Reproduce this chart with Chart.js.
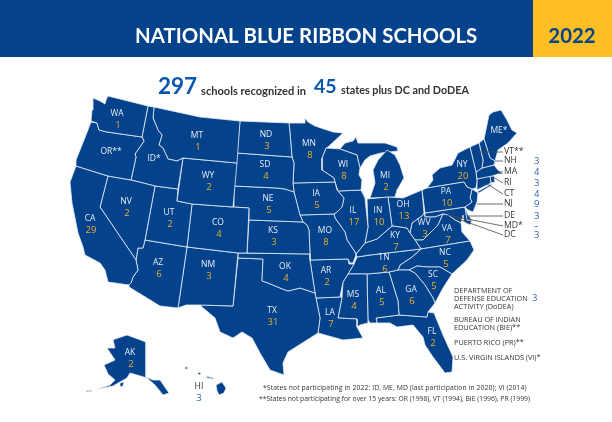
<!DOCTYPE html>
<html>
<head>
<meta charset="utf-8">
<title>National Blue Ribbon Schools 2022</title>
<script src="https://cdn.jsdelivr.net/npm/chart.js@4"></script>
<style>
html, body { margin: 0; padding: 0; background: #fff; }
canvas { display: block; }
</style>
</head>
<body>
<canvas id="mapChart" width="612" height="422"></canvas>
<script>
// state outlines in picture units
const WA = [[93,98],[100,101],[105,104],[106,100],[108,96],[148,106],[142,137],[128,135],[107,132],[99,130],[97,123],[91,121],[92,110]];
const OR = [[91,122],[97,123],[99,130],[107,132],[128,135],[142,137],[144,141],[135,154],[136,157],[131,180],[108,176],[76,166],[76,160],[80,150],[86,135]];
const CA = [[76,166],[108,176],[100,207],[136,260],[138,270],[133,277],[131,283],[129,285],[108,282],[105,270],[100,263],[85,255],[83,247],[78,233],[72,203],[70,182]];
const NV = [[108,176],[131,180],[155,186],[145,240],[143,248],[138,248],[136,260],[100,207]];
const ID = [[148,106],[154,107],[153,118],[158,130],[162,135],[159,145],[163,148],[168,159],[177,161],[183,158],[178,189],[155,186],[131,180],[136,157],[135,154],[144,141],[142,137]];
const MT = [[154,107],[200,117],[240,121],[237,163],[183,158],[177,161],[168,159],[163,148],[159,145],[162,135],[158,130],[153,118]];
const WY = [[183,158],[237,163],[233,207],[192,204],[177,201]];
const UT = [[155,186],[178,189],[177,201],[192,204],[187,247],[145,240]];
const CO = [[192,204],[233,207],[249,208],[247,253],[238,253],[187,247]];
const AZ = [[145,240],[187,247],[178,308],[160,306],[129,287],[129,285],[131,283],[133,277],[138,270],[136,260],[138,248],[143,248]];
const NM = [[187,247],[238,253],[233,306],[200,305],[186,305],[178,308]];
const ND = [[240,121],[289,123],[290,133],[292,157],[237,153]];
const SD = [[237,153],[292,157],[294,163],[293,183],[294,192],[285,189],[277,188],[234,186]];
const NE = [[234,186],[277,188],[285,189],[294,192],[300,215],[303,222],[249,220],[249,208],[233,207]];
const KS = [[249,220],[303,222],[307,225],[309,230],[310,254],[247,253]];
const OK = [[238,253],[310,254],[310,260],[315,293],[300,288],[288,291],[280,288],[268,283],[262,281],[263,259],[238,258]];
const TX = [[238,258],[263,259],[262,281],[268,283],[280,288],[288,291],[300,288],[315,293],[316,298],[320,318],[318,333],[307,340],[288,352],[283,363],[284,375],[270,370],[260,353],[252,338],[242,332],[233,338],[220,332],[215,318],[202,307],[200,305],[233,306]];
const MN = [[289,123],[305,123],[305,118],[308,122],[315,126],[333,132],[343,133],[328,147],[326,148],[322,158],[322,170],[334,178],[335,182],[293,183],[294,163],[292,157],[290,133]];
const IA = [[293,183],[335,182],[337,190],[344,198],[342,207],[337,212],[334,214],[300,215],[294,192]];
const MO = [[300,215],[334,214],[335,218],[345,232],[347,240],[355,252],[356,255],[353,263],[350,263],[348,259],[310,260],[310,254],[309,230],[307,225],[303,222]];
const AR = [[310,260],[348,259],[349,264],[354,264],[348,274],[343,282],[340,297],[316,298],[315,293]];
const LA = [[316,298],[340,297],[342,297],[338,318],[357,319],[357,327],[363,338],[343,340],[318,333],[320,318]];
const MS = [[348,274],[367,274],[368,323],[360,325],[357,327],[357,319],[338,318],[342,297],[343,282]];
const WI = [[326,148],[340,149],[357,155],[358,160],[360,168],[359,175],[362,180],[361,190],[338,191],[335,182],[334,178],[322,170],[322,158]];
const IL = [[338,191],[361,190],[365,198],[368,227],[365,243],[356,254],[355,252],[347,240],[345,232],[335,218],[334,214],[337,212],[342,207],[344,198]];
const IN = [[367,199],[388,197],[392,226],[377,239],[365,243],[368,227]];
const OH = [[388,197],[403,198],[422,190],[424,213],[423,215],[412,223],[410,233],[407,228],[394,226],[392,226]];
const MI = [[370,198],[375,183],[373,170],[378,160],[387,150],[395,155],[400,165],[404,178],[397,190],[395,197]];
const MIU = [[340,149],[345,143],[353,141],[356,137],[358,143],[370,143],[385,143],[397,147],[398,151],[381,153],[370,156],[365,160],[360,168],[358,160],[357,155]];
const KY = [[356,254],[365,243],[377,239],[392,226],[394,226],[407,228],[410,233],[415,240],[421,249],[370,255],[357,257]];
const TN = [[357,257],[370,255],[421,249],[412,257],[400,265],[398,270],[389,272],[367,274],[348,274],[354,264]];
const AL = [[367,274],[389,272],[398,301],[399,315],[376,318],[377,323],[370,323],[368,320]];
const GA = [[389,272],[398,270],[409,270],[415,273],[425,285],[433,298],[435,303],[428,312],[427,317],[399,315],[398,301]];
const FL = [[376,318],[399,315],[427,317],[428,312],[434,313],[443,335],[453,357],[452,372],[445,373],[433,357],[425,345],[423,337],[413,325],[397,327],[390,323],[377,323]];
const SC = [[409,270],[417,266],[428,267],[440,267],[452,274],[443,288],[435,303],[433,298],[425,285],[415,273]];
const NC = [[421,249],[470,241],[474,250],[467,260],[452,274],[440,267],[428,267],[417,266],[409,270],[398,270],[400,265],[412,257]];
const VA = [[443,214],[448,215],[455,220],[461,223],[462,232],[470,241],[421,249],[415,240],[423,240],[430,233],[438,225]];
const WV = [[424,213],[425,217],[435,217],[443,214],[438,225],[430,233],[423,240],[415,240],[410,233],[412,223],[423,215]];
const PA = [[427,188],[464,182],[467,187],[472,189],[470,198],[472,202],[465,207],[425,213],[422,190]];
const NY = [[427,188],[433,180],[432,175],[440,168],[452,165],[458,153],[470,147],[476,172],[477,181],[476,188],[472,189],[467,187],[464,182]];
const LI = [[477,192],[491,184],[492,185],[479,193]];
const NJ = [[472,189],[478,193],[477,202],[473,212],[468,210],[465,207],[472,202],[470,198]];
const DE = [[465,207],[468,215],[472,220],[467,220]];
const MD = [[425,213],[465,207],[467,220],[472,220],[470,225],[464,222],[463,215],[461,223],[455,220],[448,215],[443,214],[435,217],[425,217]];
const VT = [[470,147],[479,143],[483,160],[482,168],[476,172]];
const NH = [[479,143],[484,139],[490,158],[495,161],[494,165],[482,168],[483,160]];
const ME = [[484,139],[489,115],[493,112],[501,110],[507,120],[512,130],[517,133],[508,143],[498,150],[495,161],[490,158]];
const MA = [[476,172],[482,168],[494,165],[498,170],[503,174],[498,174],[492,176],[477,179]];
const CT = [[477,179],[490,176],[491,183],[477,190]];
const RI = [[490,176],[494,176],[495,182],[491,183]];
const AK = [[113,340],[115,339],[127,335],[146,342],[146,377],[153,380],[160,380],[169,393],[163,395],[155,385],[147,378],[137,375],[130,373],[127,378],[120,382],[113,386],[97,389],[110,385],[115,380],[108,374],[104,365],[115,360],[107,348],[115,348]];
const AK2 = [[120,383],[124,382],[123,386],[120,387]];
const AK3 = [[86,391],[92,390],[92,391],[86,392]];
const HI1 = [[185,367],[188,367],[188,369],[185,369]];
const HI2 = [[198,372],[201,373],[200,375],[198,374]];
const HI3 = [[206,376],[209,377],[214,378],[213,379],[207,378]];
const HI4 = [[216,385],[222,382],[226,388],[224,393],[219,395],[217,391]];

const outlines = [WA, OR, CA, NV, ID, MT, WY, UT, CO, AZ, NM, ND, SD, NE, KS, OK, TX, MN, IA, MO, AR, LA, MS, WI, IL, IN, OH, MI, MIU, KY, TN, AL, GA, FL, SC, NC, VA, WV, PA, NY, LI, NJ, DE, MD, VT, NH, ME, MA, CT, RI, AK, AK2, AK3, HI1, HI2, HI3, HI4];

// states labelled on the map
const stateLabels = ['WA','OR**','CA','NV','ID*','MT','WY','UT','CO','AZ','NM','ND','SD','NE','KS','OK','TX','MN','IA','MO','AR','LA','MS','WI','IL','IN','OH','MI','KY','TN','AL','GA','FL','SC','NC','VA','WV','PA','NY','ME*','AK'];
const schoolCounts = [1,null,29,2,null,1,2,2,4,6,3,3,4,5,3,4,31,8,5,8,2,7,4,8,17,10,13,2,7,6,5,6,2,5,5,7,3,10,20,null,2];
const labelX = [117,111,90,126,154,197,208,169,218,158,208,266,265,268,273,285,272,309,316,325,326,330,353,343,353,378,403,385,395,384,381,411,432,433,445,447,424,446,462,499,130];
const labelY = [114,152,219,202,159,136,176,213,223,263,265,135,165,199,231,267,311,144,194,231,271,313,295,165,211,211,205,176,236,258,291,290,332,275,253,229,223,192,165,131,353];

// small states listed at the side, with leader lines
const sideLabels = ['VT**','NH','MA','RI','CT','NJ','DE','MD*','DC'];
const sideCounts = ['', '3', '4', '3', '4', '9', '3', '–', '3'];
const sideY = [152,161,172,183,194,204,216,226,235];
const leaderX = [478,495,498,493,487,477,468,447,453];
const leaderY = [152,161,172,177,184,204,216,215,217];

const titleText = 'NATIONAL BLUE RIBBON SCHOOLS';
const yearText = '2022';
const totalSchools = '297';
const totalStates = '45';

const NAVY = '#04428b';
const GOLD = '#fdbf24';
const AMBER = '#ecb02e';
const COUNT_BLUE = '#2f62ab';
const HEAD_BLUE = '#0c56b0';
const INK = '#333333';

const closed = pts => pts.concat([pts[0]]).map(p => ({x: p[0], y: p[1]}));

const stateSets = outlines.map(pts => ({
    data: closed(pts),
    showLine: true,
    fill: 'shape',
    backgroundColor: NAVY,
    borderColor: '#e6ecf4',
    borderWidth: 0.8,
    borderJoinStyle: 'round',
    pointRadius: 0,
    order: 2
}));

const leaderSets = sideLabels.map((name, i) => ({
    data: [{x: leaderX[i], y: leaderY[i]}, {x: 503, y: sideY[i]}],
    showLine: true,
    fill: false,
    borderColor: '#4a4a4a',
    borderWidth: 0.8,
    pointRadius: 0,
    order: 1
}));

const textPlugin = {
    id: 'mapText',
    beforeDatasetsDraw(chart) {
        const {ctx} = chart;
        const px = chart.scales.x, py = chart.scales.y;
        ctx.save();
        ctx.fillStyle = NAVY;
        ctx.fillRect(px.getPixelForValue(0), py.getPixelForValue(0), 612, 57);
        ctx.fillStyle = GOLD;
        ctx.fillRect(px.getPixelForValue(533), py.getPixelForValue(0), 79, 57);
        ctx.restore();
    },
    afterDatasetsDraw(chart) {
        const {ctx} = chart;
        const px = chart.scales.x, py = chart.scales.y;
        const put = (text, x, y, font, color, align) => {
            ctx.font = font;
            ctx.fillStyle = color;
            ctx.textAlign = align || 'left';
            ctx.textBaseline = 'middle';
            ctx.fillText(text, px.getPixelForValue(x), py.getPixelForValue(y));
        };
        ctx.save();
        put(titleText, 135, 36, 'bold 20.4px Lato', '#fff');
        put(yearText, 572, 36, 'bold 20.4px Lato', NAVY, 'center');

        put(totalSchools, 158, 87, 'bold 22.5px Lato', HEAD_BLUE);
        put('schools recognized in', 201, 91, 'bold 11.1px Lato', INK);
        put(totalStates, 314, 87, 'bold 19.5px Lato', HEAD_BLUE);
        put('states plus DC and DoDEA', 341, 91, 'bold 10.8px Lato', INK);

        stateLabels.forEach((name, i) => {
            put(name, labelX[i], labelY[i], '8.5px "Open Sans"', '#e8eef7', 'center');
            if (schoolCounts[i] !== null) {
                put(String(schoolCounts[i]), labelX[i] + 1, labelY[i] + 11, '9.5px "Open Sans"', AMBER, 'center');
            }
        });

        sideLabels.forEach((name, i) => {
            put(name, 504, sideY[i], '8.7px "Open Sans"', INK);
            put(sideCounts[i], 534, sideY[i], '9.5px "Open Sans"', COUNT_BLUE);
        });

        put('HI', 199, 387, '8.7px "Open Sans"', INK, 'center');
        put('3', 199, 398, '9.5px "Open Sans"', COUNT_BLUE, 'center');

        const side = '7.3px "Open Sans"';
        put('DEPARTMENT OF', 454, 291, side, INK);
        put('DEFENSE EDUCATION', 454, 299, side, INK);
        put('ACTIVITY (DoDEA)', 454, 307, side, INK);
        put('3', 532, 298, '9.5px "Open Sans"', COUNT_BLUE);
        put('BUREAU OF INDIAN', 454, 320, side, INK);
        put('EDUCATION (BIE)**', 454, 328, side, INK);
        put('PUERTO RICO (PR)**', 454, 343, side, INK);
        put('U.S. VIRGIN ISLANDS (VI)*', 454, 358, side, INK);

        const note = '6.8px "Open Sans"';
        ctx.letterSpacing = '0.1px';
        put('*States not participating in 2022: ID, ME, MD (last participation in 2020); VI (2014)', 263, 388, note, INK);
        ctx.letterSpacing = '0px';
        put('**States not participating for over 15 years: OR (1998), VT (1994), BIE (1996), PR (1999)', 259, 399, note, INK);
        ctx.restore();
    }
};

new Chart(document.getElementById('mapChart').getContext('2d'), {
    type: 'scatter',
    data: { datasets: stateSets.concat(leaderSets) },
    options: {
        responsive: false,
        animation: false,
        layout: { padding: 0 },
        plugins: { legend: { display: false }, tooltip: { enabled: false }, title: { display: false } },
        scales: {
            x: { type: 'linear', display: false, min: 0, max: 612 },
            y: { type: 'linear', display: false, min: 0, max: 422, reverse: true }
        }
    },
    plugins: [textPlugin]
});
</script>
</body>
</html>
